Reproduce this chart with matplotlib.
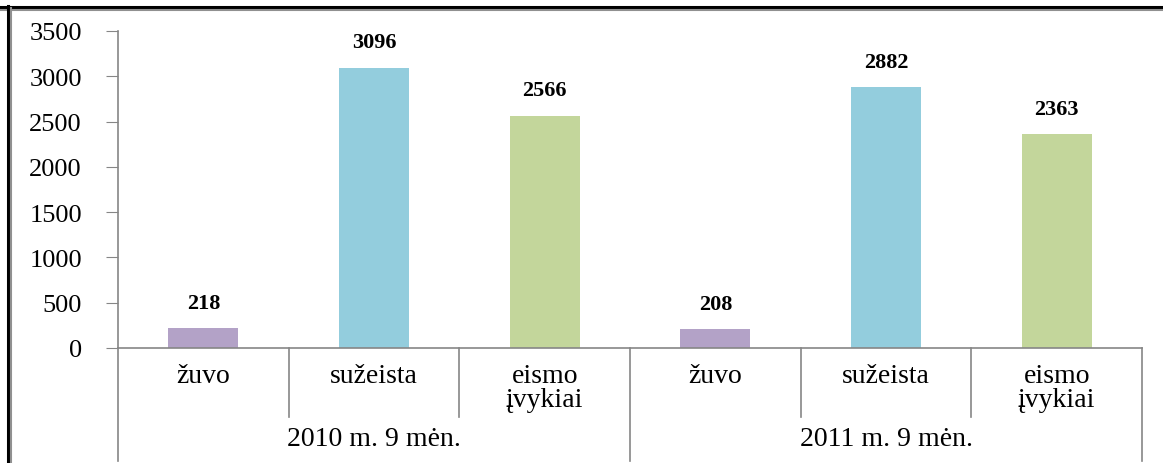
import matplotlib
matplotlib.use("Agg")
import matplotlib.pyplot as plt
from matplotlib.lines import Line2D

# ---------- data ----------
groups = ["2010 m. 9 mėn.", "2011 m. 9 mėn."]
categories = ["žuvo", "sužeista", "eismo\nįvykiai"]
values_2010 = [218, 3096, 2566]
values_2011 = [208, 2882, 2363]
colors = ["#B3A2C7", "#93CDDD", "#C3D69B"]

plt.rcParams["font.family"] = ["Liberation Serif", "DejaVu Serif"]

fig = plt.figure(figsize=(11.63, 4.64), dpi=100)
W, H = 1163, 464
ax = fig.add_axes([118 / W, (H - 349) / H, (1142 - 118) / W, (349 - 32) / H])

values = values_2010 + values_2011
labels = categories * 2
bar_colors = colors * 2
xs = list(range(len(values)))

ax.bar(xs, values, width=0.41, color=bar_colors, zorder=2)
for x, v in zip(xs, values):
    ax.annotate(str(v), (x, v), xytext=(0, 11), textcoords="offset points",
                ha="center", va="bottom", fontsize=16, fontweight="bold")

ax.set_xlim(-0.5, len(values) - 0.5)
ax.set_ylim(0, 3500)
ax.set_yticks(range(0, 3501, 500))
ax.tick_params(axis="y", length=9, color="#868686", labelsize=19, pad=17)
ax.set_xticks(xs)
ax.set_xticklabels(labels, fontsize=20, linespacing=0.95)
ax.tick_params(axis="x", length=0, pad=11)

for s in ["top", "right"]:
    ax.spines[s].set_visible(False)
for s in ["left", "bottom"]:
    ax.spines[s].set_color("#868686")
    ax.spines[s].set_linewidth(1.2)

# separators of the two-level category axis
trans = ax.get_xaxis_transform()
short = -(418 - 349) / (349 - 32)
long_ = -(462 - 349) / (349 - 32)
for x in [0.5, 1.5, 3.5, 4.5]:
    ax.plot([x, x], [0, short], transform=trans, color="#868686", lw=1.2, clip_on=False)
for x in [-0.5, 2.5, 5.5]:
    ax.plot([x, x], [0, long_], transform=trans, color="#868686", lw=1.2, clip_on=False)
for i, g in enumerate(groups):
    ax.text(i * 3 + 1, -(440 - 349) / (349 - 32), g, transform=trans,
            ha="center", va="center", fontsize=20)

# outer frame (top and left edges)
fig.add_artist(Line2D([0, 1], [1 - 8 / H, 1 - 8 / H], color="black", lw=2.2))
fig.add_artist(Line2D([0, 1], [1 - 10.5 / H, 1 - 10.5 / H], color="#909090", lw=1.5))
fig.add_artist(Line2D([8 / W, 8 / W], [0, 1 - 7 / H], color="black", lw=2.2))
fig.add_artist(Line2D([10.5 / W, 10.5 / W], [0, 1 - 9 / H], color="#909090", lw=1.5))

fig.savefig("out.png", dpi=100)
